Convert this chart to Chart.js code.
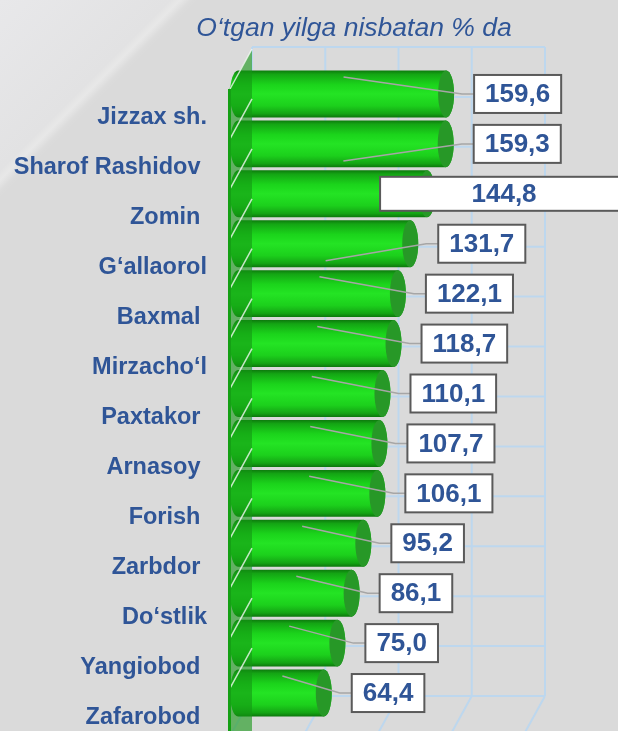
<!DOCTYPE html>
<html>
<head>
<meta charset="utf-8">
<script src="https://cdn.jsdelivr.net/npm/chart.js@4.4.1/dist/chart.umd.min.js"></script>
<style>
  html, body { margin: 0; padding: 0; background: #dadada; }
  canvas { display: block; }
</style>
</head>
<body>
<canvas id="growth" width="618" height="731"></canvas>
<script>
var title_text = 'O‘tgan yilga nisbatan % da';
var district_labels = ['Jizzax sh.', 'Sharof Rashidov ', 'Zomin ', 'G‘allaorol', 'Baxmal ', 'Mirzacho‘l',
    'Paxtakor ', 'Arnasoy ', 'Forish ', 'Zarbdor ', 'Do‘stlik', 'Yangiobod ', 'Zafarobod '];
var growth_values = [159.6, 159.3, 144.8, 131.7, 122.1, 118.7, 110.1, 107.7, 106.1, 95.2, 86.1, 75.0, 64.4];
var axis_max = 228;
var grid_step = 57;

var font_family = '"Liberation Sans", Arial, sans-serif';
var text_blue = '#2f5597';
var grid_blue = '#bdd7ee';

// the back wall sits up and to the right of the bars
var depth_dx = 11, depth_dy = -22;

function fmt(v) {
    return v.toFixed(1).replace('.', ',');
}

var background_plugin = {
    id: 'background',
    beforeDraw: function (chart) {
        var ctx = chart.ctx;
        ctx.save();
        ctx.fillStyle = '#dadada';
        ctx.fillRect(0, 0, chart.width, chart.height);
        // lighter corner with a soft diagonal streak
        var g = ctx.createLinearGradient(0, 0, 100, 100);
        g.addColorStop(0, '#e8e8ea');
        g.addColorStop(0.85, '#e2e2e3');
        g.addColorStop(0.9, '#e8e8e8');
        g.addColorStop(0.95, '#dddddd');
        g.addColorStop(1, 'rgba(218,218,218,0)');
        ctx.fillStyle = g;
        ctx.fillRect(0, 0, chart.width, chart.height);
        ctx.restore();
    }
};

var grid_plugin = {
    id: 'backWall',
    beforeDatasetsDraw: function (chart) {
        var ctx = chart.ctx, xs = chart.scales.x, ys = chart.scales.y;
        var n = district_labels.length;
        var row = (ys.bottom - ys.top) / n;
        var left = xs.getPixelForValue(0) + depth_dx;
        var right = xs.getPixelForValue(axis_max) + depth_dx;
        var top = ys.top + depth_dy, bottom = ys.bottom + depth_dy;
        ctx.save();
        ctx.strokeStyle = grid_blue;
        ctx.lineWidth = 2;
        ctx.beginPath();
        for (var v = 0; v <= axis_max; v += grid_step) {
            var x = xs.getPixelForValue(v) + depth_dx;
            ctx.moveTo(x, top);
            ctx.lineTo(x, bottom);
            // floor lines coming forward
            ctx.moveTo(x, bottom);
            ctx.lineTo(x - 22, bottom + 40);
        }
        for (var k = 0; k <= n; k++) {
            var y = top + k * row;
            ctx.moveTo(left, y);
            ctx.lineTo(right, y);
        }
        ctx.stroke();
        ctx.restore();
    }
};

function draw_cylinder(ctx, bar) {
    var h = bar.height, cy = bar.y;
    var top = cy - h / 2, bottom = cy + h / 2;
    var x0 = bar.base - 3, x1 = bar.x, rx = 8, ry = h / 2;

    var g = ctx.createLinearGradient(0, top, 0, bottom);
    g.addColorStop(0, '#0d7a0d');
    g.addColorStop(0.08, '#14a514');
    g.addColorStop(0.3, '#1bd41b');
    g.addColorStop(0.5, '#24e424');
    g.addColorStop(0.75, '#1cd01c');
    g.addColorStop(0.92, '#14a414');
    g.addColorStop(1, '#0c760c');

    ctx.beginPath();
    ctx.moveTo(x0, top);
    ctx.lineTo(x1, top);
    ctx.ellipse(x1, cy, rx, ry, 0, -Math.PI / 2, Math.PI / 2);
    ctx.lineTo(x0, bottom);
    ctx.ellipse(x0, cy, rx, ry, 0, Math.PI / 2, Math.PI * 1.5);
    ctx.closePath();
    ctx.fillStyle = g;
    ctx.fill();

    // end face
    ctx.beginPath();
    ctx.ellipse(x1, cy, rx, ry, 0, 0, Math.PI * 2);
    ctx.fillStyle = '#279827';
    ctx.fill();
}

function draw_wall(ctx, chart) {
    var xs = chart.scales.x, ys = chart.scales.y;
    var n = district_labels.length;
    var row = (ys.bottom - ys.top) / n;
    var wx0 = xs.getPixelForValue(0) - 12, wx1 = wx0 + 23;

    ctx.beginPath();
    ctx.moveTo(wx0, ys.top + 20);
    ctx.lineTo(wx1, ys.top - 20);
    ctx.lineTo(wx1, chart.height);
    ctx.lineTo(wx0, chart.height);
    ctx.closePath();
    ctx.fillStyle = 'rgba(20,150,20,0.6)';
    ctx.fill();

    ctx.strokeStyle = 'rgba(255,255,255,0.75)';
    ctx.lineWidth = 1.5;
    ctx.beginPath();
    for (var k = 0; k < n; k++) {
        var y = ys.top + k * row;
        ctx.moveTo(wx0 + 1, y + 20);
        ctx.lineTo(wx1, y - 20);
    }
    ctx.stroke();

    ctx.fillStyle = '#15a015';
    ctx.fillRect(wx0 - 1, ys.top + 20, 3, chart.height);
}

var cylinder_plugin = {
    id: 'cylinders',
    afterDatasetsDraw: function (chart, args, opts) {
        var ctx = chart.ctx;
        var bars = chart.getDatasetMeta(0).data.map(function (el) {
            return el.getProps(['x', 'y', 'base', 'height'], true);
        });
        ctx.save();
        bars.forEach(function (bar) { draw_cylinder(ctx, bar); });
        draw_wall(ctx, chart);

        // value boxes with leader lines
        ctx.font = 'bold 26px ' + font_family;
        ctx.textAlign = 'center';
        ctx.textBaseline = 'middle';
        bars.forEach(function (bar, i) {
            var text = fmt(growth_values[i]);
            var tw = ctx.measureText(text).width;
            var bw = tw + 22, bh = 38;
            var bx = bar.x + 28, by = bar.y - bh / 2;
            if (i === opts.wideLabel) {
                bh = 34;
                by = bar.y - bh / 2;
                bx = bar.x - 47;
                bw = chart.width + 10 - bx;
            } else {
                var sx = bar.base + (bar.x - bar.base) * 0.5;
                var sy = opts.leaderBelow.indexOf(i) >= 0 ? bar.y + 17 : bar.y - 17;
                ctx.strokeStyle = '#a6a6a6';
                ctx.lineWidth = 1.5;
                ctx.beginPath();
                ctx.moveTo(sx, sy);
                ctx.lineTo(bx - 12, bar.y);
                ctx.lineTo(bx, bar.y);
                ctx.stroke();
            }
            ctx.fillStyle = '#ffffff';
            ctx.fillRect(bx, by, bw, bh);
            ctx.strokeStyle = '#5a5a5a';
            ctx.lineWidth = 2;
            ctx.strokeRect(bx, by, bw, bh);
            ctx.fillStyle = text_blue;
            ctx.fillText(text, bx + bw / 2, bar.y + 1);
        });
        ctx.restore();
    },
    afterDraw: function (chart) {
        var ctx = chart.ctx;
        ctx.save();
        ctx.font = 'italic 26.5px ' + font_family;
        ctx.fillStyle = text_blue;
        ctx.textAlign = 'center';
        ctx.textBaseline = 'alphabetic';
        ctx.fillText(title_text, 354, 36);
        ctx.restore();
    }
};

var ctx = document.getElementById('growth').getContext('2d');
var myChart = new Chart(ctx, {
    type: 'bar',
    data: {
        labels: district_labels,
        datasets: [{
            data: growth_values,
            backgroundColor: 'rgba(0,0,0,0)',
            borderWidth: 0,
            barPercentage: 0.94,
            categoryPercentage: 1
        }]
    },
    options: {
        indexAxis: 'y',
        responsive: false,
        animation: false,
        layout: { padding: { top: 69, bottom: 13, right: 84, left: 0 } },
        plugins: {
            legend: { display: false },
            title: { display: false },
            tooltip: { enabled: false },
            cylinders: { wideLabel: 2, leaderBelow: [1, 3] }
        },
        scales: {
            x: { display: false, min: 0, max: axis_max },
            y: {
                afterFit: function (s) {
                    s.width = 241;
                    // labels hang below their bars, no extra room needed
                    s.paddingTop = 0;
                    s.paddingBottom = 0;
                },
                grid: { display: false },
                border: { display: false },
                ticks: {
                    padding: 26,
                    labelOffset: 24,
                    color: text_blue,
                    font: { family: font_family, size: 23.5, weight: 'bold' }
                }
            }
        }
    },
    plugins: [background_plugin, grid_plugin, cylinder_plugin]
});
</script>
</body>
</html>
